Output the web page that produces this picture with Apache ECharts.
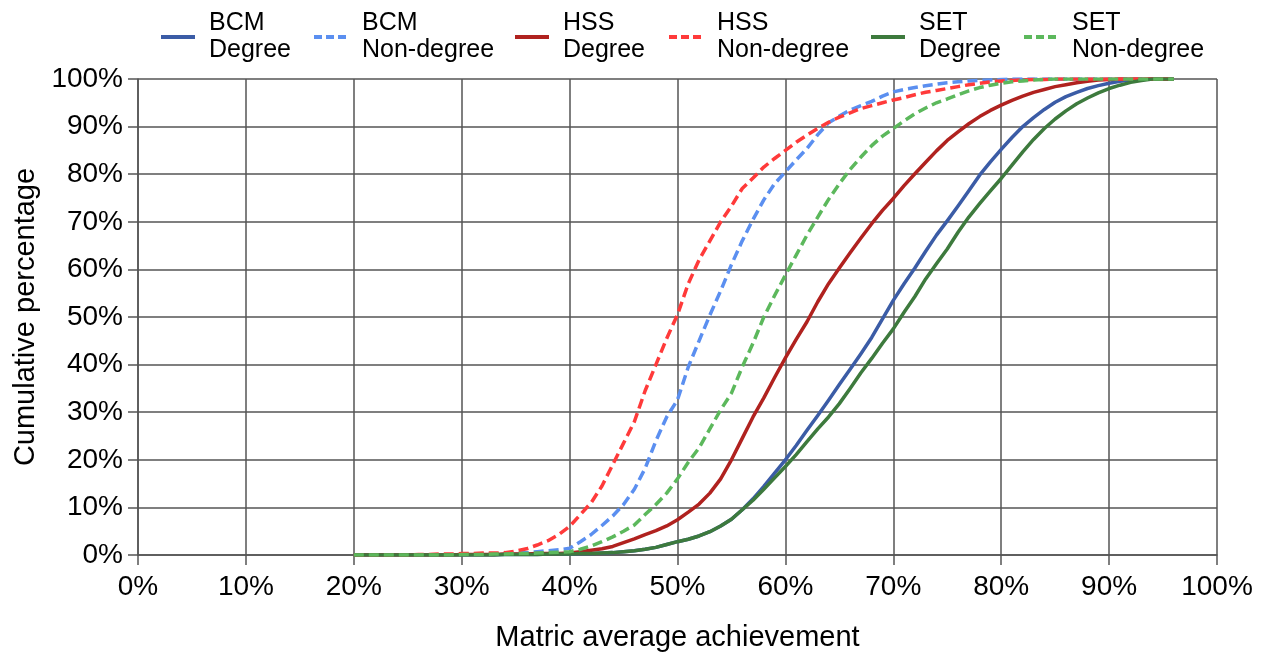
<!DOCTYPE html>
<html>
<head>
<meta charset="utf-8">
<script src="https://cdn.jsdelivr.net/npm/echarts@6/dist/echarts.min.js"></script>
<style>
html,body{margin:0;padding:0;background:#fff;}
#chart{width:1271px;height:657px;}
</style>
</head>
<body>
<div id="chart"></div>
<script>
// x values: matric average achievement (%)
var xValues = [];
for (var i = 20; i <= 96; i++) xValues.push(i);

var seriesNames = ['BCM\nDegree', 'BCM\nNon-degree', 'HSS\nDegree', 'HSS\nNon-degree', 'SET\nDegree', 'SET\nNon-degree'];

var bcmDegree = [
  0,0,0,0,0,0,0,0,0,0,
  0,0,0,0,0.1,0.1,0.1,0.1,0.2,0.2,
  0.2,0.3,0.3,0.4,0.5,0.7,0.9,1.2,1.6,2.2,
  2.8,3.3,4.0,4.9,6.1,7.5,9.5,11.8,14.4,17.2,
  20,23,26.2,29.3,32.5,35.8,39,42.3,45.7,49.6,
  53.5,57,60.3,63.8,67.2,70.2,73.3,76.5,79.8,82.6,
  85.2,87.7,90,91.9,93.6,95.1,96.3,97.2,98,98.6,
  99.1,99.5,99.8,99.9,100,100,100
];
var bcmNonDegree = [
  0,0,0,0,0,0,0,0,0,0,
  0.1,0.1,0.2,0.2,0.3,0.4,0.5,0.7,0.9,1.1,
  1.4,2.8,4.3,6.2,8.2,10.6,13.8,18.2,24,29,
  32.6,39.5,45,50.4,55.5,61,66,70.5,74.6,78,
  80.5,83,85.4,88.3,90.8,92.2,93.5,94.4,95.3,96.4,
  97.3,97.8,98.2,98.6,98.9,99.2,99.4,99.6,99.7,99.8,
  99.9,100,100,100,100,100,100,100,100,100,
  100,100,100,100,100,100,100
];
var hssDegree = [
  0,0,0,0,0,0,0,0,0,0,
  0.1,0.1,0.1,0.1,0.2,0.2,0.2,0.3,0.3,0.3,
  0.4,0.7,1.0,1.3,1.8,2.6,3.4,4.3,5.1,6.1,
  7.4,9,10.7,13,16,20,24.5,29,33,37.3,
  41.4,45.3,49,53.2,57,60.3,63.5,66.6,69.6,72.4,
  74.9,77.6,80.1,82.5,84.9,87.1,88.9,90.6,92.1,93.4,
  94.5,95.5,96.4,97.2,97.8,98.4,98.8,99.2,99.5,99.8,
  99.9,100,100,100,100,100,100
];
var hssNonDegree = [
  0,0,0,0,0,0,0.1,0.1,0.2,0.2,
  0.3,0.3,0.4,0.4,0.5,0.8,1.3,2.1,3.0,4.3,
  6.0,8.5,11,14.5,19,23.5,28,34.5,40,45.5,
  50.5,57,62,66,70,73.3,77,79.2,81.5,83.3,
  85,86.7,88.2,89.6,90.9,92,92.9,93.8,94.4,95,
  95.6,96.1,96.7,97.2,97.6,98,98.4,98.8,99.1,99.4,
  99.6,99.7,99.8,99.9,99.9,100,100,100,100,100,
  100,100,100,100,100,100,100
];
var setDegree = [
  0,0,0,0,0,0,0,0,0,0,
  0,0,0,0,0.1,0.1,0.1,0.1,0.2,0.2,
  0.2,0.3,0.3,0.4,0.5,0.7,0.9,1.2,1.6,2.2,
  2.8,3.3,4.0,4.9,6.1,7.5,9.5,11.5,13.8,16.2,
  18.6,21.1,23.8,26.5,29,31.8,35,38.3,41.3,44.5,
  47.5,51,54.3,58,61.2,64.3,67.8,71,73.8,76.5,
  79.1,81.9,84.7,87.3,89.6,91.6,93.3,94.8,96,97.1,
  98,98.7,99.3,99.7,100,100,100
];
var setNonDegree = [
  0,0,0,0,0,0,0,0,0,0,
  0.1,0.1,0.1,0.2,0.2,0.3,0.3,0.4,0.5,0.6,
  0.7,1.2,1.9,2.8,3.8,5,6.3,8.5,10.6,13,
  16,19.5,22.5,26.5,30.5,34,39.5,44.5,50,54.5,
  58.8,63,67.2,71,74.7,78,81,83.6,86,88,
  89.6,91.2,92.7,93.9,95,95.8,96.7,97.5,98.2,98.7,
  99.1,99.4,99.6,99.8,99.9,100,100,100,100,100,
  100,100,100,100,100,100,100
];

var allValues = [bcmDegree, bcmNonDegree, hssDegree, hssNonDegree, setDegree, setNonDegree];
var colors = ['#3b5ca6', '#5b8ff0', '#b0221f', '#ff3a3a', '#3d7a3d', '#5cb85c'];
var dashed = [false, true, false, true, false, true];
var legendLeft = [159, 312, 513, 667, 869, 1022];

function pairs(vals) {
  return xValues.map(function (x, i) { return [x, vals[i]]; });
}

var series = allValues.map(function (vals, k) {
  return {
    name: seriesNames[k],
    type: 'line',
    data: pairs(vals),
    symbol: 'none',
    smooth: false,
    lineStyle: { color: colors[k], width: 3.5, type: dashed[k] ? [10, 5] : 'solid', join: 'round' },
    itemStyle: { color: colors[k] }
  };
});

var legends = seriesNames.map(function (n, k) {
  return {
    data: [n],
    left: legendLeft[k],
    top: 10,
    padding: 0,
    itemWidth: 34,
    itemHeight: 12,
    selectedMode: false,
    itemStyle: { opacity: 0, borderWidth: 0 },
    lineStyle: { width: 4, type: dashed[k] ? [8, 4] : 'solid' },
    textStyle: {
      fontFamily: 'Liberation Sans, Arial, sans-serif',
      fontSize: 25,
      lineHeight: 27,
      color: '#000',
      padding: [0, 0, 0, 9]
    }
  };
});

var font = 'Liberation Sans, Arial, sans-serif';
var gridColor = '#555555';

var chart = echarts.init(document.getElementById('chart'), null, { renderer: 'canvas' });
chart.setOption({
  animation: false,
  backgroundColor: '#fff',
  legend: legends,
  grid: { left: 138, right: 54, top: 79, bottom: 102, containLabel: false },
  xAxis: {
    type: 'value',
    min: 0, max: 100, interval: 10,
    name: 'Matric average achievement',
    nameLocation: 'middle',
    nameGap: 68,
    nameTextStyle: { fontFamily: font, fontSize: 29, color: '#000' },
    axisLine: { show: true, lineStyle: { color: gridColor, width: 1.5 } },
    axisTick: { show: true, length: 10, inside: false, lineStyle: { color: gridColor, width: 1.5 } },
    axisLabel: { formatter: '{value}%', fontFamily: font, fontSize: 28, color: '#000', margin: 18 },
    splitLine: { show: true, lineStyle: { color: gridColor, width: 1.5 } }
  },
  yAxis: {
    type: 'value',
    min: 0, max: 100, interval: 10,
    name: 'Cumulative percentage',
    nameLocation: 'middle',
    nameGap: 97,
    nameTextStyle: { fontFamily: font, fontSize: 29, color: '#000' },
    axisLine: { show: true, lineStyle: { color: gridColor, width: 1.5 } },
    axisTick: { show: true, length: 10, inside: false, lineStyle: { color: gridColor, width: 1.5 } },
    axisLabel: { formatter: '{value}%', fontFamily: font, fontSize: 28, color: '#000', margin: 15 },
    splitLine: { show: true, lineStyle: { color: gridColor, width: 1.5 } }
  },
  series: series
});
</script>
</body>
</html>
